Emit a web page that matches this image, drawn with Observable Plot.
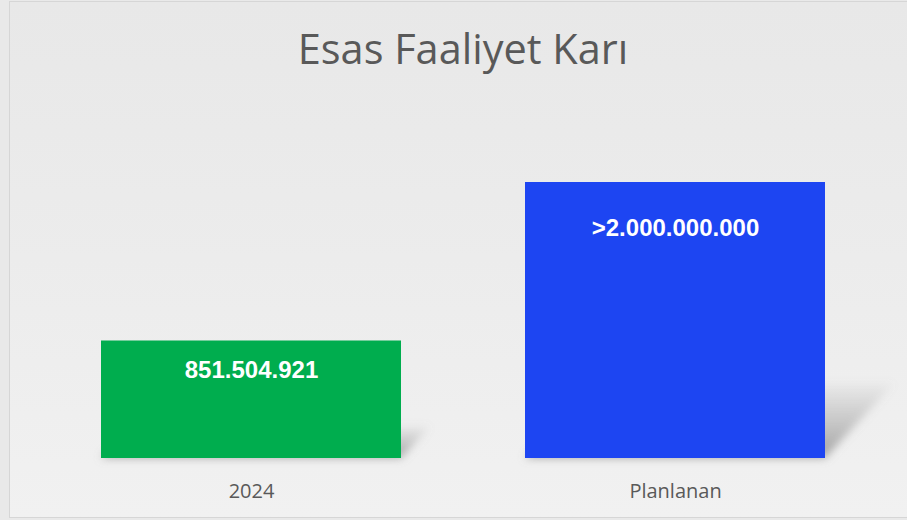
<!DOCTYPE html>
<html>
<head>
<meta charset="utf-8">
<script src="https://cdn.jsdelivr.net/npm/d3@7"></script>
<script src="https://cdn.jsdelivr.net/npm/@observablehq/plot@0.6"></script>
<style>
  html, body { margin: 0; padding: 0; width: 907px; height: 520px; overflow: hidden; background: #e9e9e9; }
  #frame { position: absolute; left: 9px; top: 1px; width: 908px; height: 515px; border: 1px solid #d6d6d6;
           background: linear-gradient(to bottom, #e8e8e8 0%, #ececec 50%, #f1f1f1 100%); }
  #wrap { position: absolute; left: 0; top: 0; width: 907px; height: 520px; }
  #title { width: 926px; height: 110px; box-sizing: border-box; padding-top: 28px; text-align: center;
           font-family: "Open Sans", sans-serif; font-size: 41.5px; line-height: 41.5px; color: #595959; }
  svg { display: block; }
</style>
</head>
<body>
<div id="frame"></div>
<div id="wrap">
  <div id="title">Esas Faaliyet Karı</div>
  <div id="chart"></div>
</div>
<script>
const categories = ["2024", "Planlanan"];
const values = [851504921, 2000000000];
const labels = ["851.504.921", ">2.000.000.000"];
const colors = ["#00AD4E", "#1D45F2"];

const data = categories.map((c, i) => ({category: c, value: values[i], label: labels[i], color: colors[i]}));

const W = 907, H = 410, base = 348;

const plot = Plot.plot({
  width: W,
  height: H,
  marginLeft: 58.6,
  marginRight: 39.6,
  marginTop: 3,
  marginBottom: H - base,
  style: {background: "transparent", fontFamily: "'Open Sans', sans-serif", fontSize: "20px", color: "#595959"},
  x: {domain: categories, paddingInner: 0.2925, paddingOuter: 0.1, label: null, tickSize: 0, tickPadding: 25},
  y: {domain: [0, 2500000000], axis: null},
  marks: [
    Plot.barY(data, {x: "category", y: "value", fill: "#6e6e6e"}),
    Plot.barY(data, {x: "category", y: "value", fill: "color"}),
    Plot.text(data.slice(0, 1), {x: "category", y: "value", text: "label", fill: "white", fontWeight: "bold",
      fontFamily: "'Liberation Sans', Arial, sans-serif", fontSize: 24, dy: 29}),
    Plot.text(data.slice(1), {x: "category", y: "value", text: "label", fill: "white", fontWeight: "bold",
      fontFamily: "'Liberation Sans', Arial, sans-serif", fontSize: 24, dy: 46})
  ]
});

const svg = d3.select(plot);
svg.style("overflow", "visible");
const defs = svg.append("defs");
const filt = defs.append("filter")
  .attr("id", "shadowBlur")
  .attr("filterUnits", "userSpaceOnUse")
  .attr("x", 0).attr("y", 0).attr("width", W).attr("height", H);
filt.append("feGaussianBlur").attr("stdDeviation", 4);
const grad = defs.append("linearGradient").attr("id", "shadowGrad")
  .attr("x1", 0).attr("y1", 0).attr("x2", 0).attr("y2", 1);
grad.append("stop").attr("offset", "0%").attr("stop-color", "#8a8a8a").attr("stop-opacity", 0.05);
grad.append("stop").attr("offset", "60%").attr("stop-color", "#8a8a8a").attr("stop-opacity", 0.45);
grad.append("stop").attr("offset", "100%").attr("stop-color", "#8a8a8a").attr("stop-opacity", 0.75);

// first group of rects = the shadow bars
const rectGroups = Array.from(plot.querySelectorAll("g")).filter(g => g.querySelector(":scope > rect"));
const sgNode = rectGroups[0];
if (sgNode) {
  const wrapper = document.createElementNS("http://www.w3.org/2000/svg", "g");
  wrapper.setAttribute("filter", "url(#shadowBlur)");
  sgNode.parentNode.insertBefore(wrapper, sgNode);
  wrapper.appendChild(sgNode);
  sgNode.setAttribute("transform", `matrix(1,0,-0.25,0.27,${0.25 * base},${0.73 * base})`);
  sgNode.removeAttribute("fill");
  sgNode.querySelectorAll("rect").forEach(r => r.setAttribute("fill", "url(#shadowGrad)"));
}

document.getElementById("chart").appendChild(plot);
</script>
</body>
</html>
